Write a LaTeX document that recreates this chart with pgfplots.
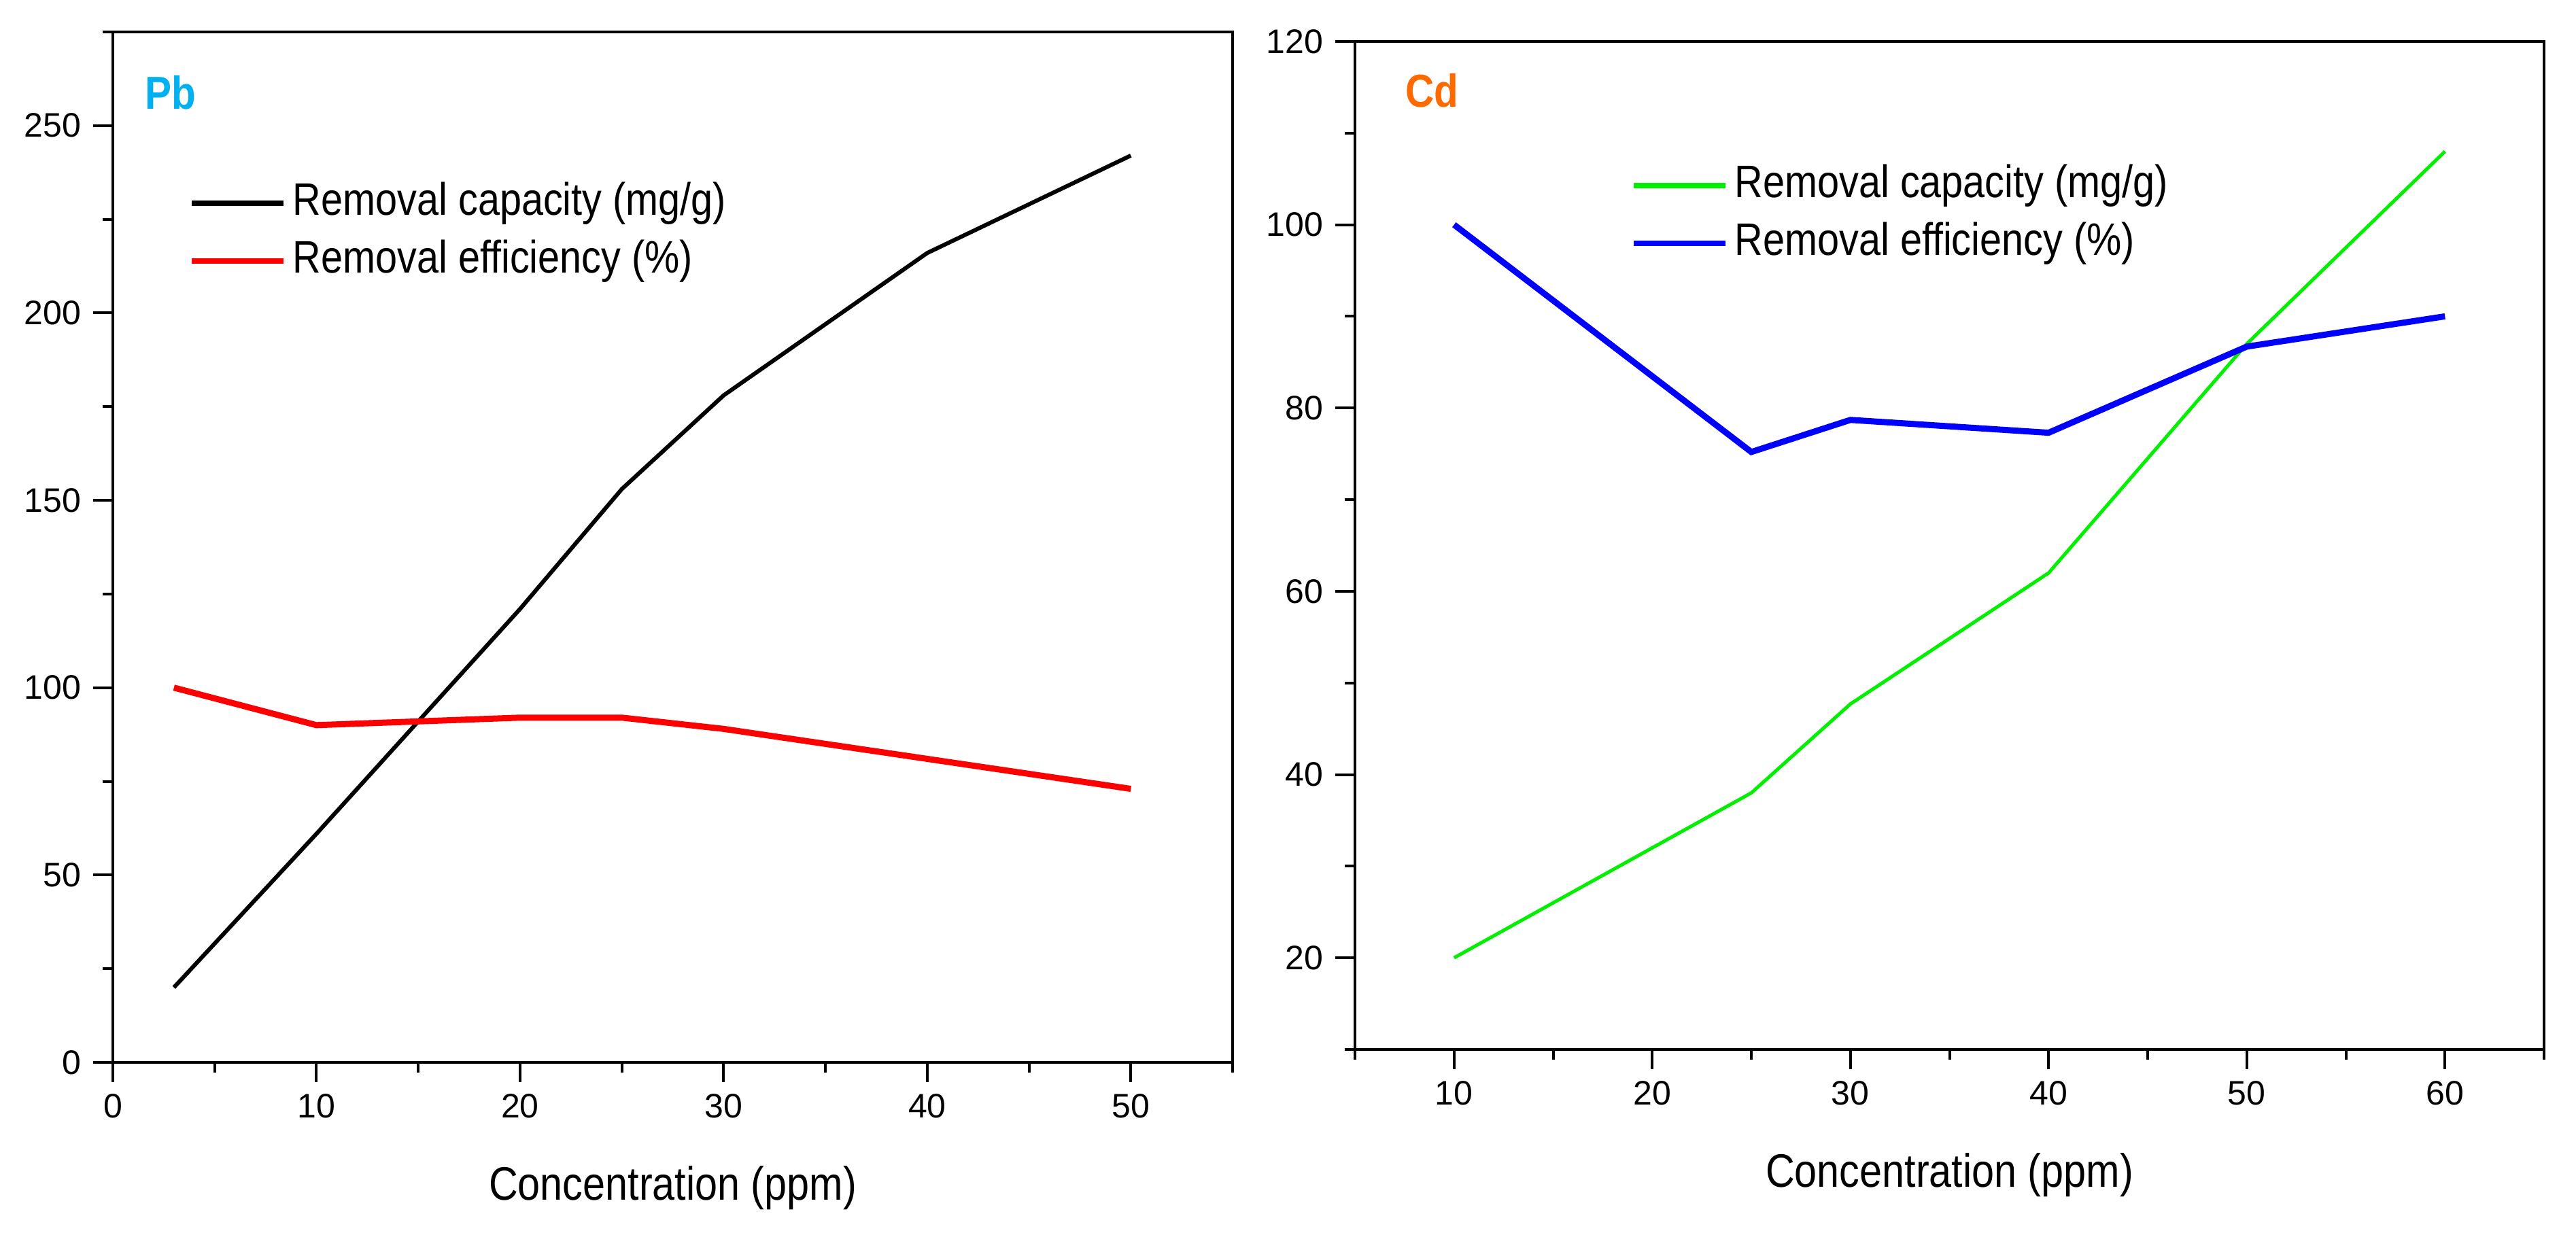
\documentclass[border=0pt]{standalone}
\usepackage{fontspec}
\setmainfont{Liberation Sans}
\newfontfamily\narrow[FakeStretch=0.86]{Liberation Sans}
\usepackage{pgfplots}
\pgfplotsset{compat=1.18}
\definecolor{pbcol}{RGB}{0,176,240}
\definecolor{cdcol}{RGB}{255,106,0}
\definecolor{grn}{RGB}{0,240,0}
\definecolor{blu}{RGB}{0,0,255}
\definecolor{rd}{RGB}{255,0,0}
\pgfplotsset{
  common/.style={
    scale only axis,
    anchor=south west,
    axis line style={line width=0.8pt},
    every tick/.style={black, line width=0.8pt},
    tick align=outside,
    xtick pos=bottom, ytick pos=left,
    major tick length=5.8pt,
    minor tick length=3pt,
    /pgf/number format/assume math mode=true,
    tick label style={font=\fontsize{10pt}{12pt}\selectfont},
    xlabel style={font=\narrow\fontsize{13.8pt}{16pt}\selectfont, at={(axis description cs:0.5,0)}, anchor=base, yshift=-40.6pt},
    legend style={draw=none, fill=none, inner sep=0pt, outer sep=0pt,
      font=\narrow\fontsize{13.4pt}{15pt}\selectfont,
      nodes={text height=10pt, text depth=3pt, inner sep=2pt},
      cells={anchor=west}, row sep=0pt},
    legend image code/.code={\draw[line width=1.6pt] (0pt,0pt) -- (27pt,0pt);},
    clip=false,
  }
}
\begin{document}
\begin{tikzpicture}
\useasboundingbox (0,0) rectangle (757.8pt,362.8pt);
\begin{axis}[common,
  at={(33.2pt,50.2pt)}, width=329.4pt, height=303.2pt,
  xmin=0, xmax=55, ymin=0, ymax=275,
  xtick={0,10,...,50}, minor xtick={5,15,...,55},
  ytick={0,50,...,250}, minor ytick={25,75,...,275},
  xlabel={Concentration (ppm)},
  legend style={at={(axis description cs:0.068,0.862)}, anchor=north west},
]
\addplot[black, line width=1.2pt] coordinates {(3,20) (10,61) (15,91) (20,121) (25,153) (30,178) (40,216) (50,242)};
\addlegendentry{Removal capacity (mg/g)}
\addplot[rd, line width=1.8pt] coordinates {(3,100) (10,90) (15,91) (20,92) (25,92) (30,89) (40,81) (50,73)};
\addlegendentry{Removal efficiency (\%)}
\node[anchor=base west, inner sep=0pt, text=pbcol, font=\narrow\bfseries\fontsize{13.6pt}{15pt}\selectfont] at (rel axis cs:0.028,0.925) {Pb};
\end{axis}
\begin{axis}[common,
  at={(398.6pt,54pt)}, width=349.8pt, height=296.6pt,
  xmin=5, xmax=65, ymin=10, ymax=120,
  xtick={10,20,...,60}, minor xtick={5,15,...,65},
  ytick={20,40,...,120}, minor ytick={10,30,...,110},
  xlabel={Concentration (ppm)},
  legend style={at={(axis description cs:0.232,0.886)}, anchor=north west},
]
\addplot[grn, line width=1pt] coordinates {(10,20) (25,38) (30,47.7) (40,62) (50,87) (60,108)};
\addlegendentry{Removal capacity (mg/g)}
\addplot[blu, line width=1.8pt] coordinates {(10,100) (25,75.2) (30,78.7) (35,78) (40,77.3) (50,86.7) (60,90)};
\addlegendentry{Removal efficiency (\%)}
\node[anchor=base west, inner sep=0pt, text=cdcol, font=\narrow\bfseries\fontsize{13.6pt}{15pt}\selectfont] at (rel axis cs:0.042,0.935) {Cd};
\end{axis}
\end{tikzpicture}
\end{document}
